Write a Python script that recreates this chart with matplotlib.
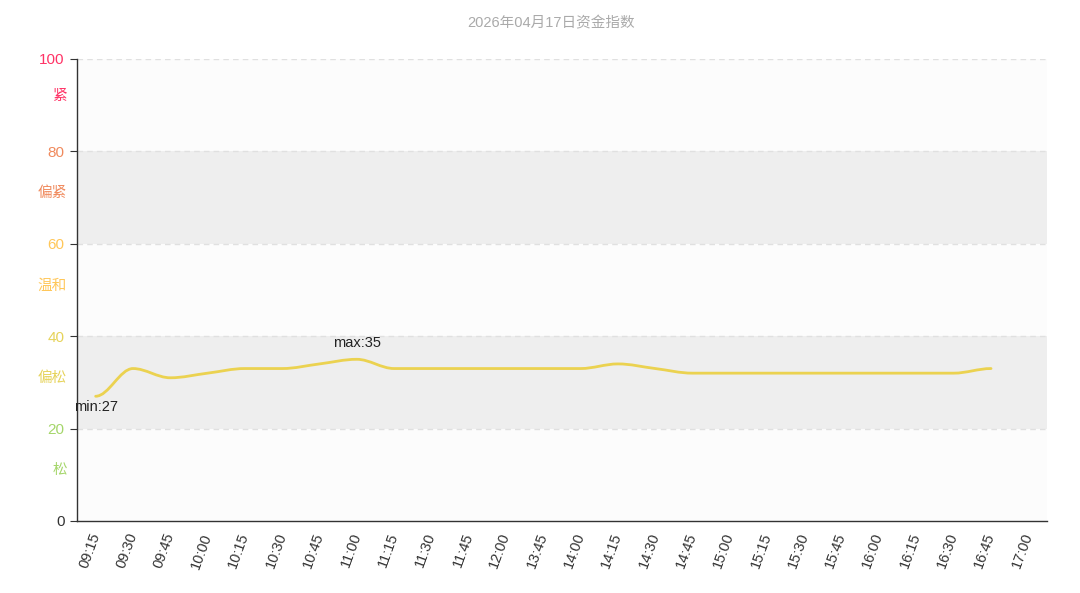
import numpy as np
import matplotlib
matplotlib.use("Agg")
import matplotlib.pyplot as plt
from matplotlib.path import Path
from matplotlib.patches import PathPatch

plt.rcParams['font.family'] = ['Liberation Sans', 'Noto Sans CJK SC', 'DejaVu Sans']

times = ['09:15', '09:30', '09:45', '10:00', '10:15', '10:30', '10:45', '11:00',
         '11:15', '11:30', '11:45', '12:00', '13:45', '14:00', '14:15', '14:30',
         '14:45', '15:00', '15:15', '15:30', '15:45', '16:00', '16:15', '16:30',
         '16:45', '17:00']
values = [27, 33, 31, 32, 33, 33, 34, 35, 33, 33, 33, 33, 33, 33, 34, 33,
          32, 32, 32, 32, 32, 32, 32, 32, 33]

band_edges = [0, 20, 40, 60, 80, 100]
band_names = ['松', '偏松', '温和', '偏紧', '紧']
band_label_pos = [11, 31, 51, 71, 92]
tick_colors = ['#333333', '#a5d66b', '#e6d35a', '#ffc759', '#f08a5d', '#ff3366']
band_colors = ['#a5d66b', '#e6d35a', '#ffc759', '#f08a5d', '#ff3366']
line_color = '#ebd250'

fig = plt.figure(figsize=(10.8, 5.93), dpi=100)
ax = fig.add_axes([77 / 1080, 72 / 593, 970 / 1080, 462 / 593])

# alternating split areas
for i in range(len(band_edges) - 1):
    fc = '#eeeeee' if i % 2 == 1 else '#fcfcfc'
    ax.axhspan(band_edges[i], band_edges[i + 1], color=fc, lw=0, zorder=0)
for y in band_edges[1:]:
    ax.axhline(y, color='#e0e0e0', lw=1, ls=(0, (4, 3)), zorder=1)

# smoothed line (bezier through the points, flat tangent at extremes)
x = np.arange(len(values), dtype=float)
y = np.array(values, dtype=float)
n = len(y)
slopes = np.zeros(n)
for i in range(1, n - 1):
    if (y[i] - y[i - 1]) * (y[i + 1] - y[i]) > 0:
        slopes[i] = (y[i + 1] - y[i - 1]) / 2.0
verts = [(x[0], y[0])]
codes = [Path.MOVETO]
k = 0.35
for i in range(n - 1):
    verts += [(x[i] + k, y[i] + slopes[i] * k),
              (x[i + 1] - k, y[i + 1] - slopes[i + 1] * k),
              (x[i + 1], y[i + 1])]
    codes += [Path.CURVE4] * 3
ax.add_patch(PathPatch(Path(verts, codes), fill=False, edgecolor=line_color,
                       lw=2, zorder=3, capstyle='round'))

imax = int(np.argmax(y))
imin = int(np.argmin(y))
ax.annotate('max:%d' % y[imax], (x[imax], y[imax]), xytext=(0, 7),
            textcoords='offset points', ha='center', va='bottom',
            fontsize=10.5, color='#222222')
ax.annotate('min:%d' % y[imin], (x[imin], y[imin]), xytext=(0, -3),
            textcoords='offset points', ha='center', va='top',
            fontsize=10.5, color='#222222')

ax.set_xlim(-0.5, len(times) - 0.5)
ax.set_ylim(0, 100)
ax.set_yticks(band_edges)
ax.set_yticklabels([str(v) for v in band_edges], fontsize=11)
for lbl, c in zip(ax.get_yticklabels(), tick_colors):
    lbl.set_color(c)
ax.tick_params(axis='y', length=5, color='#333333', pad=4)

ax.set_xticks(np.arange(len(times)))
ax.set_xticklabels(times, rotation=70, ha='right', va='center',
                   rotation_mode='anchor', fontsize=10.5, color='#333333')
ax.tick_params(axis='x', length=0, pad=9)

for name, pos, c in zip(band_names, band_label_pos, band_colors):
    ax.text(-0.0105, pos, name, transform=ax.get_yaxis_transform(),
            ha='right', va='center', fontsize=10.5, color=c)

for s in ['top', 'right']:
    ax.spines[s].set_visible(False)
for s in ['left', 'bottom']:
    ax.spines[s].set_color('#333333')
    ax.spines[s].set_linewidth(1)

fig.text(551 / 1080, 1 - 23 / 593, '2026年04月17日资金指数', ha='center',
         va='center', fontsize=10.5, color='#aaaaaa')

fig.savefig('out.png', dpi=100)
